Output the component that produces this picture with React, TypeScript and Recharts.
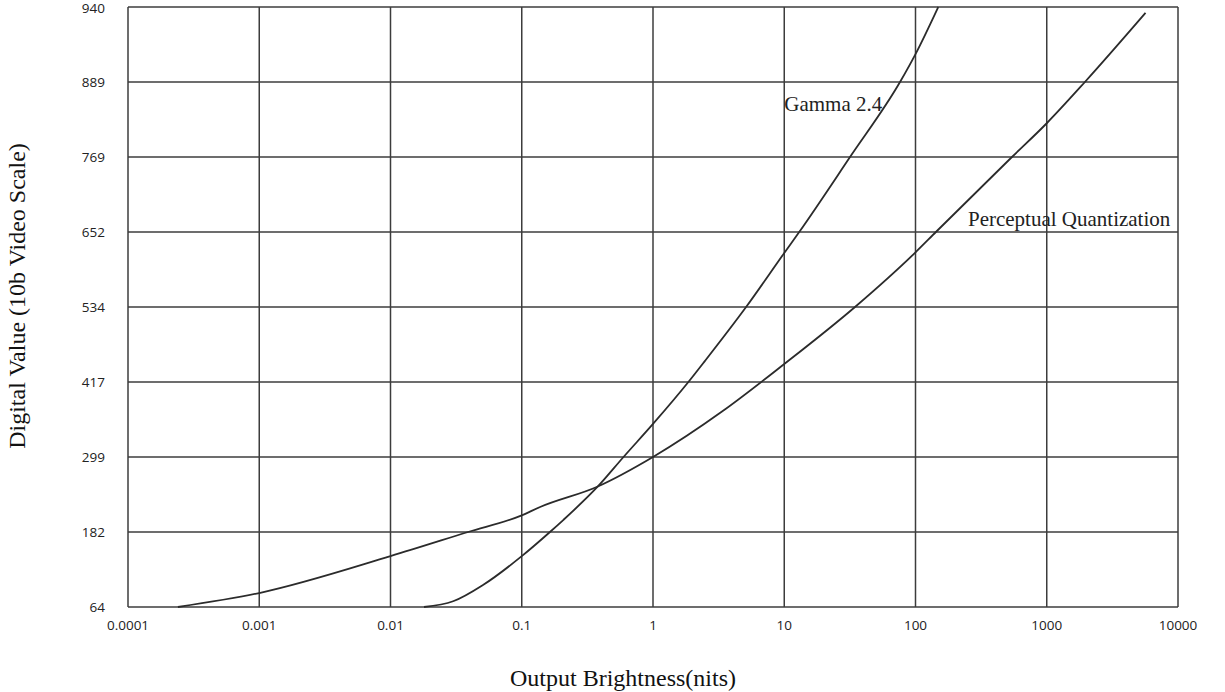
import { LineChart, Line, XAxis, YAxis, CartesianGrid, ReferenceDot } from "recharts";

// gridline labels on the y axis (equal spacing on the page, uneven in value)
const codeTicks = [64, 182, 299, 417, 534, 652, 769, 889, 940];
const nitsTicks = [0.0001, 0.001, 0.01, 0.1, 1, 10, 100, 1000, 10000];

// Perceptual Quantization curve (nits -> 10b code)
const pqNits = [0.00024, 0.001, 0.01, 0.039, 0.1, 0.138, 0.38, 1, 3.44, 10, 34.6, 100, 143, 543, 1000, 1954, 5660];
const pqCode = [64, 86, 144, 182, 208, 221, 253, 299, 372, 445, 534, 620, 652, 769, 823, 889, 936];

// Gamma 2.4 curve
const gammaNits = [0.018, 0.03, 0.051, 0.1, 0.164, 0.208, 0.38, 0.596, 1, 1.86, 2.49, 5.12, 10, 13, 31.7, 76.2, 100, 149];
const gammaCode = [64, 73, 99, 144, 182, 201, 253, 299, 351, 417, 450, 534, 619, 652, 769, 889, 908, 940];

// the axis is drawn with equally spaced gridlines, so map a code onto its gridline index
function toGrid(v: number) {
  for (let i = 0; i < codeTicks.length - 1; i++) {
    if (v <= codeTicks[i + 1]) return i + (v - codeTicks[i]) / (codeTicks[i + 1] - codeTicks[i]);
  }
  return codeTicks.length - 1;
}

const pqData = pqNits.map((x, i) => ({ x, y: toGrid(pqCode[i]) }));
const gammaData = gammaNits.map((x, i) => ({ x, y: toGrid(gammaCode[i]) }));

const serif = "'Liberation Serif', 'Times New Roman', serif";
const sans = "'Open Sans', sans-serif";

const curveLabel = (text: string) => (props: any) => {
  const vb = props.viewBox || {};
  return (
    <text x={vb.x} y={vb.y} fontFamily={serif} fontSize={21} fill="#222" textAnchor="start">
      {text}
    </text>
  );
};

export default function App() {
  return (
    <div style={{ position: "absolute", left: 0, top: 0, width: 1225, height: 692, background: "#fff" }}>
      <LineChart width={1225} height={692} margin={{ top: 7, right: 47, bottom: 0, left: 0 }}>
        <CartesianGrid stroke="#3c3c3c" strokeWidth={1.5} />
        <XAxis
          dataKey="x"
          type="number"
          scale="log"
          domain={[0.0001, 10000]}
          ticks={nitsTicks}
          tickFormatter={(v) => String(v)}
          allowDataOverflow
          axisLine={false}
          tickLine={false}
          tickSize={0}
          tickMargin={13}
          height={85}
          tick={{ fontFamily: sans, fontSize: 13.5, fill: "#222" }}
          label={{
            content: () => (
              <text x={623} y={678} fontFamily={serif} fontSize={24} fill="#111" textAnchor="middle" dominantBaseline="central">
                Output Brightness(nits)
              </text>
            ),
          }}
        />
        <YAxis
          type="number"
          domain={[0, codeTicks.length - 1]}
          ticks={codeTicks.map((_, i) => i)}
          tickFormatter={(i) => String(codeTicks[i])}
          axisLine={false}
          tickLine={false}
          tickSize={0}
          tickMargin={23}
          width={128}
          tick={{ fontFamily: sans, fontSize: 13.5, fill: "#222" }}
          label={{
            content: () => (
              <text
                x={17}
                y={296}
                transform="rotate(-90 17 296)"
                fontFamily={serif}
                fontSize={24}
                fill="#111"
                textAnchor="middle"
                dominantBaseline="central"
              >
                Digital Value (10b Video Scale)
              </text>
            ),
          }}
        />
        <Line data={gammaData} dataKey="y" type="monotone" stroke="#2b2b2b" strokeWidth={1.8} dot={false} isAnimationActive={false} />
        <Line data={pqData} dataKey="y" type="monotone" stroke="#2b2b2b" strokeWidth={1.8} dot={false} isAnimationActive={false} />
        <ReferenceDot x={10} y={toGrid(843)} r={0} fill="none" stroke="none" label={curveLabel("Gamma 2.4")} />
        <ReferenceDot x={251} y={toGrid(662)} r={0} fill="none" stroke="none" label={curveLabel("Perceptual Quantization")} />
      </LineChart>
    </div>
  );
}
